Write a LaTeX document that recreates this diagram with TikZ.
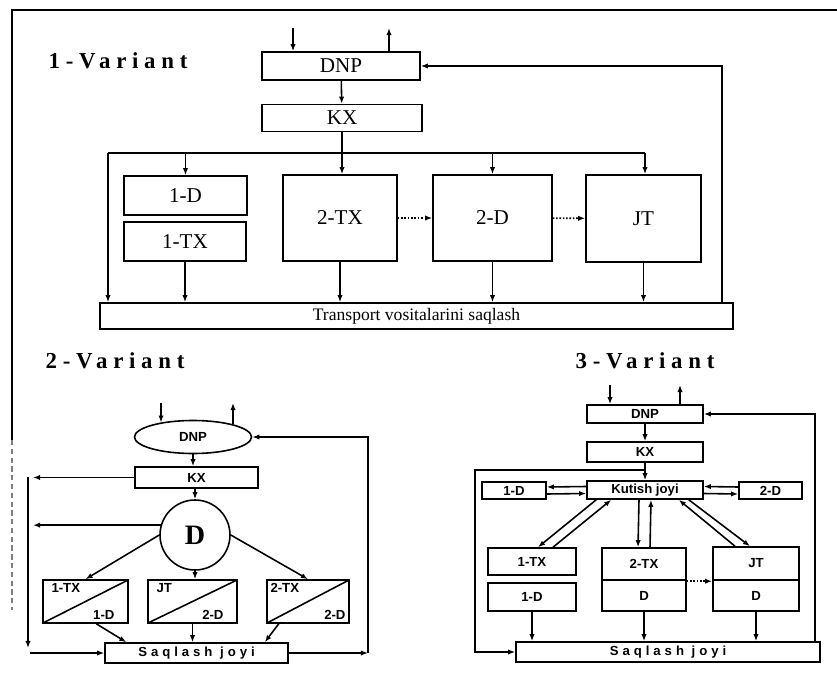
\documentclass[tikz,border=0pt]{standalone}
\usepackage{fontspec}
\setmainfont{Liberation Serif}
\setsansfont{Liberation Sans}
\newfontfamily\spacedserif[LetterSpace=25]{Liberation Serif}
\newfontfamily\spacedsans[LetterSpace=30]{Liberation Sans}
\usetikzlibrary{arrows.meta,shapes.geometric,calc}

\begin{document}
\begin{tikzpicture}[x=0.2mm, y=-0.2mm, line width=0.9pt,
    >={Latex[length=4pt,width=3pt]},
    sz/.style 2 args={minimum width=#1*\px, minimum height=#2*\px},
    vtitle/.style={font=\spacedserif\bfseries\fontsize{13}{15}\selectfont, inner sep=0pt},
    v1box/.style={draw, rectangle, inner sep=0pt, font=\fontsize{12}{14}\selectfont},
    v2box/.style={draw, rectangle, inner sep=0pt, font=\sffamily\bfseries\fontsize{7.5}{9}\selectfont},
    v3box/.style={v2box},
    v2lab/.style={inner sep=2pt, font=\sffamily\bfseries\fontsize{7.5}{9}\selectfont},
    splitbox/.style={v2box, path picture={\draw (path picture bounding box.south west) -- (path picture bounding box.north east);}},
    spaced/.style={font=\spacedsans\bfseries\fontsize{7.5}{9}\selectfont},
    dotarrow/.style={->, densely dotted}]
    \def\px{0.2mm}
    \useasboundingbox (0,0) rectangle (837,684);
    % edge of the scanned page
    \draw (12,440) -- (12,10) -- (837,10);
    \draw[densely dashed, black!50] (12,440) -- (12,610);

    % ---------- 1-Variant ----------
    \node[vtitle] (title1) at (118,61) {1-Variant};
    \node[v1box, sz={158}{28}] (dnp1) at (341,66) {DNP};
    \node[v1box, sz={160}{27}] (kx1) at (342,118) {KX};
    \node[v1box, sz={123}{39}] (d1a) at (185.5,195.5) {1-D};
    \node[v1box, sz={122}{39}] (tx1a) at (185,241.5) {1-TX};
    \node[v1box, sz={114}{86}] (tx2a) at (340,218) {2-TX};
    \node[v1box, sz={119}{86}] (d2a) at (492.5,218) {2-D};
    \node[v1box, sz={115}{87}] (jt1) at (643.5,218.5) {JT};
    \node[v1box, sz={633}{26}, font=\fontsize{10}{12}\selectfont] (store1) at (416.5,316) {Transport vositalarini saqlash};
    \coordinate (in1) at (293,28);
    \coordinate (out1) at (389,28);
    \coordinate (busL) at (108,153);
    \coordinate (busR) at (645,153);
    \coordinate (back1) at (722,0);
    \draw[->] (in1) -- (in1 |- dnp1.north);
    \draw[->] (out1 |- dnp1.north) -- (out1);
    \draw[->] (dnp1) -- (kx1);
    \draw[->] (kx1.south) -- (kx1.south |- tx2a.north);
    % distribution line over the boxes
    \draw (busL) -- (busR);
    \draw[->] (busL) -- (busL |- store1.north);
    \draw[->] (busR) -- (busR |- jt1.north);
    \draw[->] (d1a.north |- busL) -- (d1a.north);
    \draw[->] (d2a.north |- busL) -- (d2a.north);
    \foreach \b in {tx1a,tx2a,d2a,jt1}
      \draw[->] (\b.south) -- (\b.south |- store1.north);
    \draw[dotarrow] (tx2a) -- (d2a);
    \draw[dotarrow] (d2a) -- (jt1);
    \draw[->] (back1 |- store1.north) |- (dnp1.east);

    % ---------- 2-Variant ----------
    \node[vtitle] (title2) at (115,361) {2-Variant};
    \node[v2box, ellipse, sz={117}{33}] (dnp2) at (193,437) {DNP};
    \node[v2box, sz={123}{21}] (kx2) at (196.5,477.5) {KX};
    \node[draw, circle, inner sep=0pt, minimum size=70*\px, font=\bfseries\fontsize{16}{18}\selectfont] (d2) at (195,535) {D};
    \node[splitbox, sz={85}{43}] (sp1) at (85.5,601.5) {};
    \node[splitbox, sz={89}{43}] (sp2) at (192.5,601.5) {};
    \node[splitbox, sz={82}{43}] (sp3) at (308,601.5) {};
    \node[v2lab, anchor=north west, xshift=1mm] (sp1a) at (sp1.north west) {1-TX};
    \node[v2lab, anchor=south east, xshift=-2mm] (sp1b) at (sp1.south east) {1-D};
    \node[v2lab, anchor=north west, xshift=1mm] (sp2a) at (sp2.north west) {JT};
    \node[v2lab, anchor=south east, xshift=-2mm] (sp2b) at (sp2.south east) {2-D};
    \node[v2lab, anchor=north west] (sp3a) at (sp3.north west) {2-TX};
    \node[v2lab, anchor=south east] (sp3b) at (sp3.south east) {2-D};
    \node[v2box, sz={183}{20}, spaced] (store2) at (196.5,653) {Saqlash joyi};
    \coordinate (in2) at (161,403);
    \coordinate (out2) at (233,403);
    \coordinate (side2) at (33,477);
    \coordinate (rail2) at (28,477);
    \coordinate (rail2e) at (28,648);
    \coordinate (start2) at (30,653);
    \coordinate (back2) at (368,0);
    \draw[->] (in2) -- (in2 |- dnp2.156);
    \draw[->] (out2 |- dnp2.17) -- (out2);
    \draw[->] (dnp2.south) -- (dnp2.south |- kx2.north);
    \draw[->] (kx2.south -| d2.north) -- (d2.north);
    \draw[->] (kx2.west) -- (kx2.west -| side2);
    \draw[->] (d2.164) -- (d2.164 -| side2);
    \draw[->] (rail2) -- (rail2e);
    \draw[->] (start2) -- (store2.west);
    \draw[->] (d2.west) -- (sp1.north);
    \draw[->] (d2.south) -- (d2.south |- sp2.north);
    \draw[->] (d2.east) -- (sp3.north);
    \draw[->] ($(sp1.south)!0.25!(sp1.south east)$) -- ($(store2.north west)!0.12!(store2.north east)$);
    \draw[->] (sp2.south) -- (sp2.south |- store2.north);
    \draw[->] ($(sp3.south west)!0.15!(sp3.south east)$) -- ($(store2.north west)!0.87!(store2.north east)$);
    \draw[->] (store2.east) -- (store2.east -| back2);
    \draw[->] (store2.east -| back2) |- (dnp2.east);

    % ---------- 3-Variant ----------
    \node[vtitle] (title3) at (645,361) {3-Variant};
    \node[v3box, sz={116}{18}] (dnp3) at (645,414) {DNP};
    \node[v3box, sz={116}{20}] (kx3) at (645,452) {KX};
    \node[v3box, sz={116}{18}] (wait3) at (645,490) {Kutish joyi};
    \node[v3box, sz={64}{17}] (d1c) at (514,490.5) {1-D};
    \node[v3box, sz={63}{17}] (d2c) at (770.5,490.5) {2-D};
    \node[v3box, sz={88}{27}] (tx1c) at (532,561.5) {1-TX};
    \node[v3box, sz={88}{28}] (d1b) at (532,597) {1-D};
    \node[v3box, sz={84}{32}] (tx2c) at (644,564) {2-TX};
    \node[v3box, sz={84}{31}] (dd2) at (644,595.5) {D};
    \node[v3box, sz={86}{33}] (jt3) at (756,563.5) {JT};
    \node[v3box, sz={86}{31}] (dd3) at (756,595.5) {D};
    \node[v3box, sz={304}{20}, spaced] (store3) at (668,652) {Saqlash joyi};
    \coordinate (in3) at (610,385);
    \coordinate (out3) at (680,385);
    \coordinate (loop3) at (475,470);
    \coordinate (back3) at (815,0);
    \draw[->] (in3) -- (in3 |- dnp3.north);
    \draw[->] (out3 |- dnp3.north) -- (out3);
    \draw[->] (dnp3) -- (kx3);
    \draw[->] (kx3) -- (wait3);
    \draw[->] (kx3.south |- loop3) -- (loop3) |- (store3.west);
    \draw[->] (back3 |- store3.north) |- (dnp3.east);
    % two-way links of the waiting place
    \draw[->] ([yshift=0.7mm]wait3.west) -- ([yshift=0.7mm]d1c.east);
    \draw[->] ([yshift=-0.7mm]d1c.east) -- ([yshift=-0.7mm]wait3.west);
    \draw[->] ([yshift=0.7mm]d2c.west) -- ([yshift=0.7mm]wait3.east);
    \draw[->] ([yshift=-0.7mm]wait3.east) -- ([yshift=-0.7mm]d2c.west);
    \draw[->] ([xshift=2mm]wait3.south west) -- ([xshift=1.2mm]tx1c.north);
    \draw[->] ([xshift=4.2mm]tx1c.north) -- ([xshift=5mm]wait3.south west);
    \draw[->] ([xshift=-1.2mm]wait3.south) -- ([xshift=-1.2mm]tx2c.north);
    \draw[->] ([xshift=1.2mm]tx2c.north) -- ([xshift=1.2mm]wait3.south);
    \draw[->] ([xshift=-3mm]wait3.south east) -- ([xshift=-1.2mm]jt3.north);
    \draw[->] ([xshift=-4.2mm]jt3.north) -- ([xshift=-5mm]wait3.south east);
    \draw[dotarrow] ([yshift=-0.4mm]dd2.north east) -- ([yshift=-0.4mm]dd3.north west);
    \foreach \b in {d1b,dd2,dd3}
      \draw[->] (\b.south) -- (\b.south |- store3.north);
  \end{tikzpicture}
\end{document}
